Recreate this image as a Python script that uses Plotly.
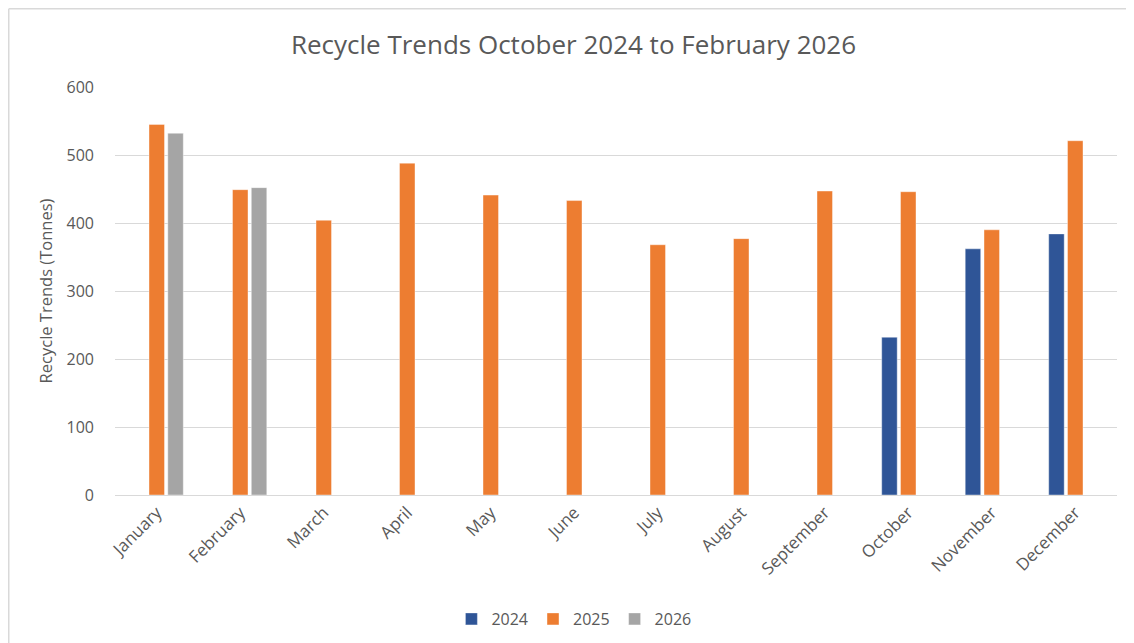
import plotly.graph_objects as go

months = ["January", "February", "March", "April", "May", "June", "July",
          "August", "September", "October", "November", "December"]
vals_2024 = [None, None, None, None, None, None, None, None, None, 232, 362, 384]
vals_2025 = [545, 449, 404, 488, 441, 433, 368, 377, 447, 446, 390, 521]
vals_2026 = [532, 452, None, None, None, None, None, None, None, None, None, None]
series_names = ["2024", "2025", "2026"]
colors = ["#2F5597", "#ED7D31", "#A5A5A5"]
y_ticks = [0, 100, 200, 300, 400, 500, 600]

FONT = "Open Sans"
TXT = "#595959"
OFF = 8  # page body margin
W, H = 1134 - OFF, 643 - OFF
L, R, T, B = 115 - OFF, 1117 - OFF, 87 - OFF, 495 - OFF

fig = go.Figure()
for name, vals, col in zip(series_names, [vals_2024, vals_2025, vals_2026], colors):
    fig.add_trace(go.Bar(x=months, y=vals, name=name, marker_color=col,
                         marker_line_color="rgba(255,255,255,0.5)", marker_line_width=0.8))

fig.update_layout(
    width=W, height=H,
    margin=dict(l=L, r=W - R, t=T, b=H - B, autoexpand=False),
    paper_bgcolor="white", plot_bgcolor="white",
    barmode="group", bargap=0.325, bargroupgap=0.175,
    title=dict(text="Recycle Trends October 2024 to February 2026",
               x=(573.5 - OFF) / W, xanchor="center", xref="container",
               y=1 - (45 - OFF) / H, yanchor="middle",
               font=dict(family=FONT, size=26, color=TXT)),
    font=dict(family=FONT, color=TXT),
    showlegend=True,
    legend=dict(orientation="h", x=0.458, xanchor="center",
                y=(B - (619 - OFF)) / (B - T), yanchor="middle",
                font=dict(family=FONT, size=16, color=TXT), itemwidth=30,
                traceorder="normal"),
)
fig.update_yaxes(range=[0, 600], tickvals=y_ticks, showgrid=True, gridcolor="#D9D9D9",
                 gridwidth=1, zeroline=False, showline=False, automargin=False,
                 tickfont=dict(family=FONT, size=16, color=TXT), ticklabelstandoff=20,
                 title=dict(text="Recycle Trends (Tonnes)", standoff=9,
                            font=dict(family=FONT, size=16.5, color=TXT)))
fig.update_xaxes(tickangle=-45, showline=True, linecolor="#D9D9D9", linewidth=1,
                 automargin=False,
                 tickfont=dict(family=FONT, size=17, color=TXT), ticks="")

px = lambda v: (v - L) / (R - L)
py = lambda v: (B - v) / (B - T)
fig.add_shape(type="line", xref="paper", yref="paper",
              x0=px(0.75), x1=px(0.75), y0=py(0.75), y1=py(700),
              line=dict(color="#D9D9D9", width=1.5), layer="below")
fig.add_shape(type="line", xref="paper", yref="paper",
              x0=px(0.75), x1=px(1200), y0=py(0.75), y1=py(0.75),
              line=dict(color="#D9D9D9", width=1.5), layer="below")

fig.write_html("out.html")
